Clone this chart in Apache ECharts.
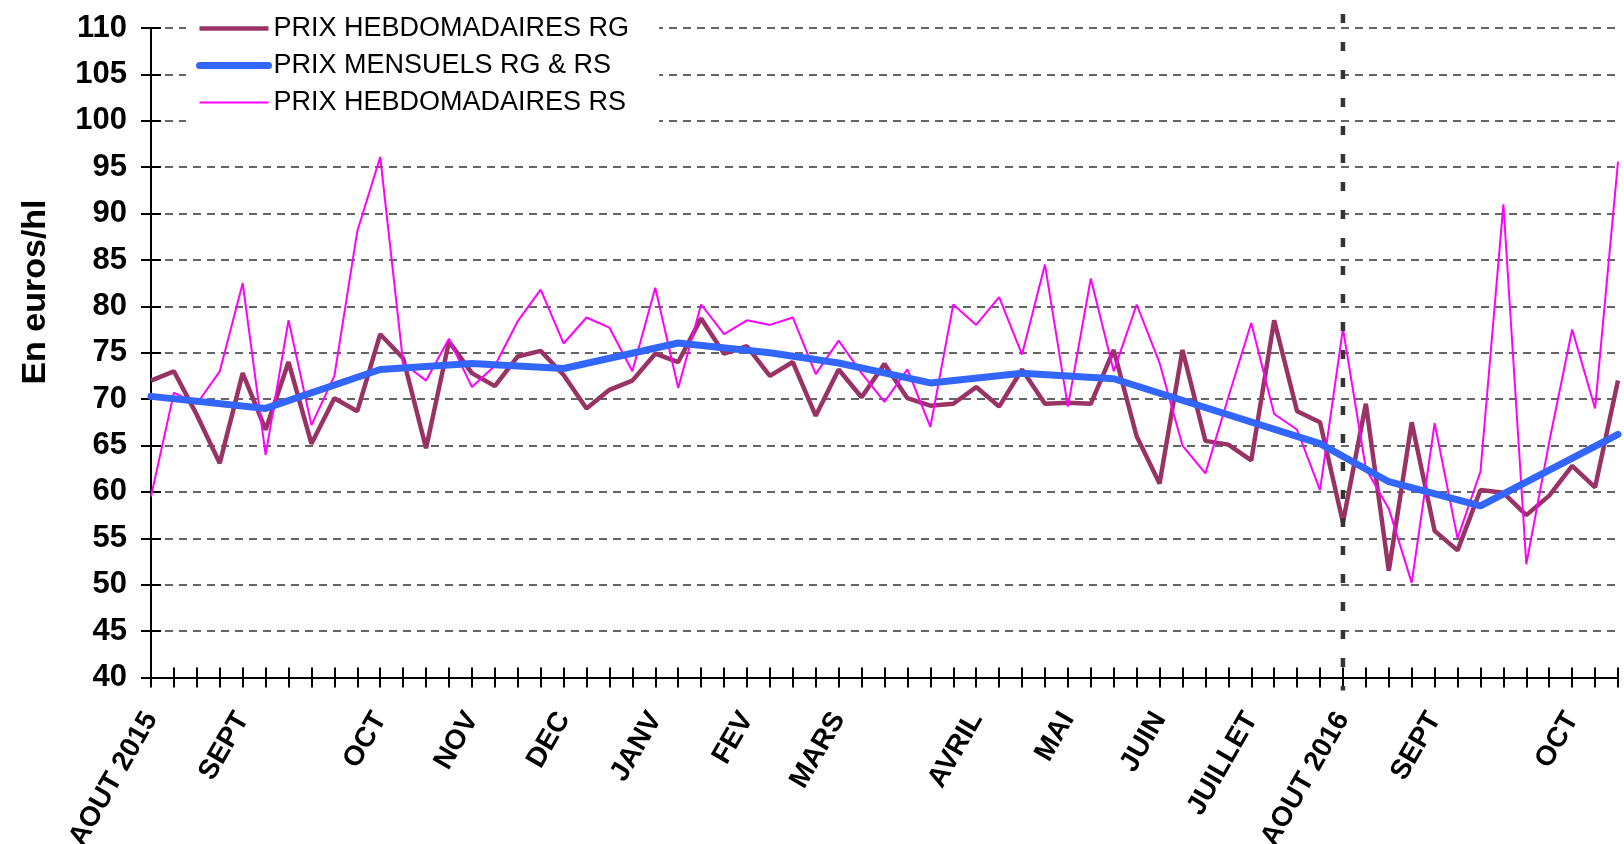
<!DOCTYPE html>
<html>
<head>
<meta charset="utf-8">
<script src="https://cdn.jsdelivr.net/npm/echarts@6/dist/echarts.min.js"></script>
<style>
  html, body { margin: 0; padding: 0; background: #fff; }
  #chart { width: 1624px; height: 844px; }
</style>
</head>
<body>
<div id="chart"></div>
<script>
// weekly categories, only some carry a month label
var labelIdx = [0, 4, 10, 14, 18, 22, 26, 30, 36, 40, 44, 48, 52, 56, 62];
var labelTxt = ['AOUT 2015', 'SEPT', 'OCT', 'NOV', 'DEC', 'JANV', 'FEV', 'MARS',
                'AVRIL', 'MAI', 'JUIN', 'JUILLET', 'AOUT 2016', 'SEPT', 'OCT'];
var nWeeks = 65;

var prixRG = [
  72.0, 73.0, 68.3, 63.1, 72.8, 66.7, 74.0, 65.2, 70.1, 68.7,
  77.0, 74.4, 64.7, 76.2, 72.8, 71.4, 74.6, 75.2, 72.6, 69.0,
  71.0, 72.0, 74.9, 74.0, 78.7, 74.9, 75.7, 72.5, 74.0, 68.2,
  73.2, 70.2, 73.8, 70.1, 69.3, 69.5, 71.3, 69.2, 73.2, 69.5,
  69.6, 69.5, 75.3, 66.0, 60.9, 75.3, 65.5, 65.1, 63.4, 78.5,
  68.7, 67.5, 56.7, 69.5, 51.5, 67.5, 55.8, 53.7, 60.2, 59.9,
  57.5, 59.6, 62.8, 60.5, 72.0
];

var prixRS = [
  59.5, 70.7, 69.5, 73.0, 82.5, 64.0, 78.5, 67.2, 72.5, 88.1,
  96.1, 73.9, 72.0, 76.5, 71.3, 73.6, 78.4, 81.8, 76.0, 78.8,
  77.7, 73.0, 82.0, 71.2, 80.2, 77.0, 78.5, 78.0, 78.8, 72.7,
  76.3, 72.8, 69.7, 73.2, 67.0, 80.2, 78.0, 81.0, 74.8, 84.5,
  69.2, 83.0, 73.0, 80.2, 73.9, 65.0, 62.0, 70.2, 78.2, 68.4,
  66.7, 60.2, 77.6, 62.5, 58.2, 50.2, 67.4, 55.0, 62.2, 91.0,
  52.2, 65.4, 77.5, 69.0, 95.6
];

// monthly price, placed on the week where each month's point sits
var mensWeek = [0, 5, 10, 14, 18, 23, 27, 30, 34, 38, 42, 51, 54, 58, 64];
var mensVal  = [70.3, 69.0, 73.2, 73.85, 73.3, 76.05, 75.0, 73.9, 71.75, 72.8, 72.2, 65.2, 61.1, 58.5, 66.2];

var splitWeek = 52; // AOUT 2016

var cats = [];
for (var i = 0; i < nWeeks; i++) cats.push('');
labelIdx.forEach(function (k, j) { cats[k] = labelTxt[j]; });

var mensData = mensWeek.map(function (w, j) { return [w, mensVal[j]]; });

var FONT = 'Liberation Sans, Arial, sans-serif';
var C_RG = '#993366', C_MENS = '#3366FF', C_RS = '#FF00FF';

var yTitle = {
  type: 'text',
  x: 36, y: 292,
  rotation: Math.PI / 2,
  style: {
    text: 'En euros/hl',
    font: 'bold 34px ' + FONT,
    fill: '#000',
    textAlign: 'center',
    textVerticalAlign: 'middle'
  }
};

var chart = echarts.init(document.getElementById('chart'));
chart.setOption({
  animation: false,
  backgroundColor: '#fff',
  grid: { left: 151, right: 6, top: 28, bottom: 166.5, outerBoundsMode: 'none' },
  legend: {
    orient: 'vertical',
    left: 186,
    top: 9,
    padding: [6, 30, 6, 10],
    backgroundColor: '#fff',
    itemWidth: 69,
    itemHeight: 14,
    itemGap: 10,
    textStyle: { fontFamily: FONT, fontSize: 27, color: '#000' },
    data: [
      { name: 'PRIX HEBDOMADAIRES RG', itemStyle: { opacity: 0 }, lineStyle: { color: C_RG, width: 4.5 } },
      { name: 'PRIX MENSUELS RG & RS', itemStyle: { opacity: 0 }, lineStyle: { color: C_MENS, width: 7 } },
      { name: 'PRIX HEBDOMADAIRES RS', itemStyle: { opacity: 0 }, lineStyle: { color: C_RS, width: 2 } }
    ]
  },
  xAxis: [
    {
      type: 'category',
      data: cats,
      boundaryGap: false,
      axisLine: { lineStyle: { color: '#000', width: 2 } },
      axisTick: { interval: 0, length: 10, lineStyle: { color: '#000', width: 2 } },
      axisLabel: {
        interval: 0, rotate: 60, margin: 37,
        fontFamily: FONT, fontSize: 28, fontWeight: 'bold', color: '#000',
        padding: [22, 0, 0, 0]
      },
      splitLine: { show: false }
    },
    {
      type: 'category',
      data: cats,
      boundaryGap: false,
      position: 'bottom',
      axisLine: { show: false },
      axisTick: { inside: true, interval: 0, length: 10, lineStyle: { color: '#000', width: 2 } },
      axisLabel: { show: false },
      splitLine: { show: false }
    }
  ],
  yAxis: [
    {
      type: 'value',
      min: 40, max: 110, interval: 5,
      axisLine: { show: true, lineStyle: { color: '#000', width: 2 } },
      axisTick: { show: true, length: 10, lineStyle: { color: '#000', width: 2 } },
      axisLabel: { margin: 24, fontFamily: FONT, fontSize: 31, fontWeight: 'bold', color: '#000' },
      splitLine: { show: true, lineStyle: { color: '#333', width: 1.5, type: [8, 6] } }
    },
    {
      type: 'value',
      min: 40, max: 110, interval: 5,
      position: 'left',
      axisLine: { show: false },
      axisTick: { show: true, inside: true, length: 10, lineStyle: { color: '#000', width: 2 } },
      axisLabel: { show: false },
      splitLine: { show: false }
    }
  ],
  graphic: [yTitle],
  series: [
    {
      name: 'PRIX HEBDOMADAIRES RG',
      type: 'line',
      data: prixRG,
      symbol: 'none',
      z: 2,
      lineStyle: { color: C_RG, width: 4.5 },
      itemStyle: { color: C_RG }
    },
    {
      name: 'PRIX MENSUELS RG & RS',
      type: 'line',
      data: mensData,
      symbol: 'none',
      z: 4,
      lineStyle: { color: C_MENS, width: 7, cap: 'round', join: 'round' },
      itemStyle: { color: C_MENS }
    },
    {
      name: 'PRIX HEBDOMADAIRES RS',
      type: 'line',
      data: prixRS,
      symbol: 'none',
      z: 3,
      lineStyle: { color: C_RS, width: 2 },
      itemStyle: { color: C_RS }
    }
  ]
});

// vertical dashed separator at AOUT 2016, a little past the plot on both ends
var pTop = chart.convertToPixel({ gridIndex: 0 }, [splitWeek, 110]);
var pBot = chart.convertToPixel({ gridIndex: 0 }, [splitWeek, 40]);
chart.setOption({
  graphic: [
    yTitle,
    {
      type: 'line',
      z: 10,
      shape: { x1: pTop[0], y1: pTop[1] - 14, x2: pBot[0], y2: pBot[1] + 13 },
      style: { stroke: '#333', lineWidth: 4.5, lineDash: [9, 19] }
    }
  ]
});
</script>
</body>
</html>
